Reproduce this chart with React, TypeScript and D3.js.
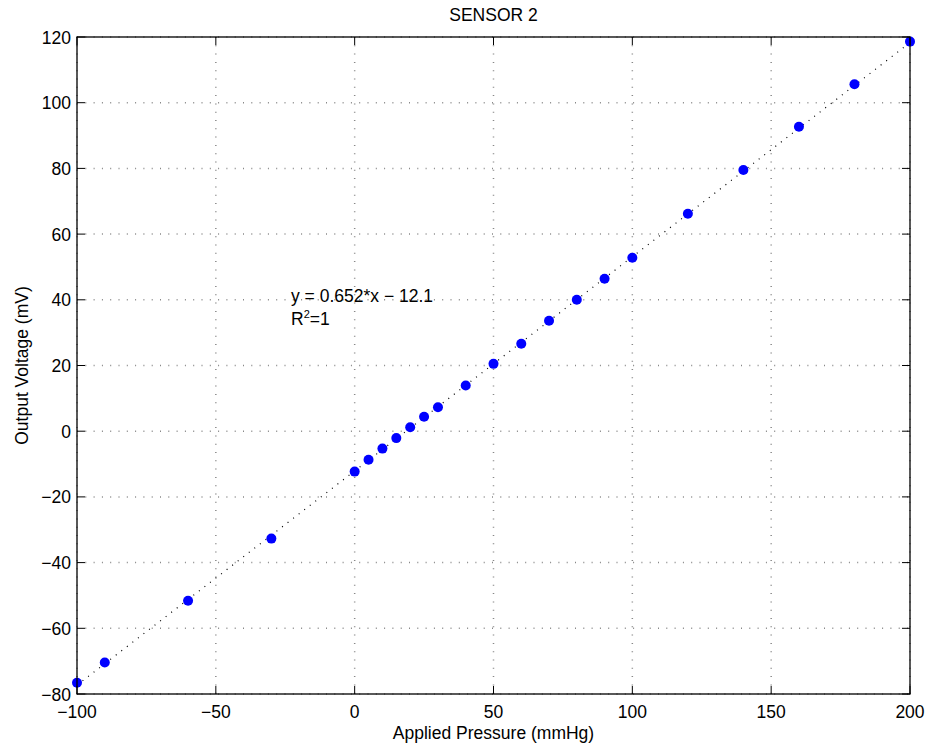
import React from "react";
import * as d3 from "d3";

const pressure = [-100, -90, -60, -30, 0, 5, 10, 15, 20, 25, 30, 40, 50, 60, 70, 80, 90, 100, 120, 140, 160, 180, 200];
const voltage = [-76.6, -70.4, -51.6, -32.7, -12.3, -8.7, -5.3, -2.1, 1.2, 4.4, 7.3, 13.9, 20.5, 26.6, 33.6, 40.0, 46.4, 52.8, 66.2, 79.5, 92.7, 105.6, 118.6];
const xTicks = [-100, -50, 0, 50, 100, 150, 200];
const yTicks = [-80, -60, -40, -20, 0, 20, 40, 60, 80, 100, 120];
const slope = 0.652;
const intercept = -12.1;

export default function App() {
  const W = 932, H = 749;
  const L = 77, R = 910, T = 37, B = 694;
  const x = d3.scaleLinear().domain([-100, 200]).range([L, R]);
  const y = d3.scaleLinear().domain([-80, 120]).range([B, T]);
  const font = "'Liberation Sans', Arial, sans-serif";
  const fs = 17.5;
  const tl = 8;
  const fmt = (t: number) => (t < 0 ? "\u2212" + Math.abs(t) : String(t));
  return (
    <svg width={W} height={H} style={{ position: "absolute", left: 0, top: 0, background: "#fff" }}>
      <rect x={0} y={0} width={W} height={H} fill="#fff" />
      {xTicks.map((t) => (
        <line key={"gx" + t} x1={x(t)} x2={x(t)} y1={T} y2={B} stroke="#888" strokeDasharray="1,7.3" strokeWidth={1.5} />
      ))}
      {yTicks.map((t) => (
        <line key={"gy" + t} x1={L} x2={R} y1={y(t)} y2={y(t)} stroke="#888" strokeDasharray="1,7.3" strokeWidth={1.5} />
      ))}
      <line x1={x(-100)} y1={y(slope * -100 + intercept)} x2={x(200)} y2={y(slope * 200 + intercept)} stroke="#000" strokeDasharray="1,6" strokeWidth={1.2} />
      {pressure.map((p, i) => (
        <circle key={i} cx={x(p)} cy={y(voltage[i])} r={5} fill="#0000ff" />
      ))}
      {xTicks.map((t) => (
        <g key={"tx" + t}>
          <line x1={x(t)} x2={x(t)} y1={B} y2={B - tl} stroke="#000" />
          <line x1={x(t)} x2={x(t)} y1={T} y2={T + tl} stroke="#000" />
          <text x={x(t)} y={718} textAnchor="middle" fontFamily={font} fontSize={fs}>{fmt(t)}</text>
        </g>
      ))}
      {yTicks.map((t) => (
        <g key={"ty" + t}>
          <line x1={L} x2={L + tl} y1={y(t)} y2={y(t)} stroke="#000" />
          <line x1={R} x2={R - tl} y1={y(t)} y2={y(t)} stroke="#000" />
          <text x={L - 6} y={y(t) + 6.5} textAnchor="end" fontFamily={font} fontSize={fs}>{fmt(t)}</text>
        </g>
      ))}
      <rect x={L} y={T} width={R - L} height={B - T} fill="none" stroke="#000" strokeWidth={1.3} />
      <text x={(L + R) / 2} y={21} textAnchor="middle" fontFamily={font} fontSize={fs}>SENSOR 2</text>
      <text x={(L + R) / 2} y={739} textAnchor="middle" fontFamily={font} fontSize={fs}>Applied Pressure (mmHg)</text>
      <text transform={`translate(28,${(T + B) / 2}) rotate(-90)`} textAnchor="middle" fontFamily={font} fontSize={fs}>Output Voltage (mV)</text>
      <text x={291} y={302} fontFamily={font} fontSize={fs}>y = 0.652*x − 12.1</text>
      <text x={291} y={325} fontFamily={font} fontSize={fs}>R<tspan dy={-7} fontSize={11}>2</tspan><tspan dy={7}>=1</tspan></text>
    </svg>
  );
}
